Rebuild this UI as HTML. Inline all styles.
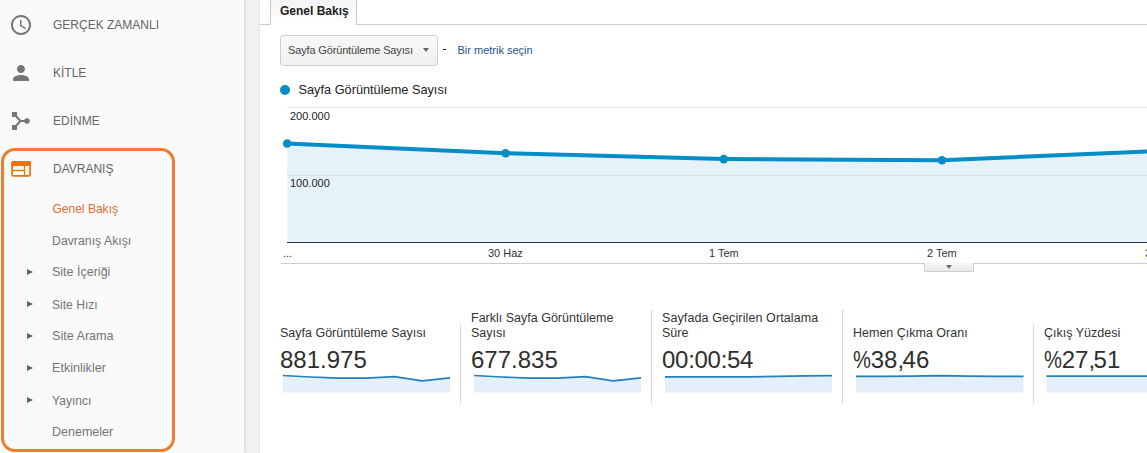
<!DOCTYPE html>
<html><head><meta charset="utf-8">
<style>
*{margin:0;padding:0;box-sizing:border-box}
html,body{width:1147px;height:453px;overflow:hidden;background:#fff;font-family:"Liberation Sans",sans-serif}
.a{position:absolute;white-space:nowrap;line-height:1}
#side{position:absolute;left:0;top:0;width:244px;height:453px;background:#fafafa}
#band{position:absolute;left:244px;top:0;width:16px;height:453px;background:linear-gradient(to right,#d9d9d9 0px,#e9e9e9 1px,#efefef 3px,#f1f1f1 5px,#f1f1f1 15px,#e6e6e6 15px)}
.top{font-size:12px;color:#666;left:53px}
.sub{font-size:12px;color:#757575;left:52px}
.tri{position:absolute;left:27px;width:0;height:0;border-top:3.5px solid transparent;border-bottom:3.5px solid transparent;border-left:6px solid #5f6368}
.pc{display:inline-block;transform:scaleX(.84);transform-origin:0 50%;margin-right:-3.6px}
.cm{letter-spacing:-1.6px}
#ring{position:absolute;left:1px;top:148px;width:174px;height:304px;border:3px solid #ed7d31;border-radius:14px}
</style></head><body>
<div id="side">
  <!-- clock -->
  <svg class="a" style="left:9px;top:12.5px" width="24" height="24" viewBox="0 0 24 24"><path fill="#757575" d="M11.99 2C6.47 2 2 6.48 2 12s4.47 10 9.99 10C17.52 22 22 17.52 22 12S17.52 2 11.99 2zM12 20c-4.42 0-8-3.58-8-8s3.58-8 8-8 8 3.58 8 8-3.58 8-8 8zm.5-13H11v6l5.25 3.15.75-1.23-4.5-2.67z"/></svg>
  <div class="a top" style="top:18.8px">GERÇEK ZAMANLI</div>
  <!-- person -->
  <svg class="a" style="left:9px;top:60.8px" width="24" height="24" viewBox="0 0 24 24"><path fill="#757575" d="M12 12c2.21 0 4-1.79 4-4s-1.79-4-4-4-4 1.79-4 4 1.79 4 4 4zm0 2c-2.67 0-8 1.34-8 4v2h16v-2c0-2.66-5.33-4-8-4z"/></svg>
  <div class="a top" style="top:66.8px">KİTLE</div>
  <!-- acquisition -->
  <svg class="a" style="left:0;top:100px" width="40" height="40" viewBox="0 100 40 40"><g fill="#757575"><rect x="12" y="112" width="5" height="5"/><rect x="12" y="125" width="5" height="5"/><circle cx="27" cy="121" r="2.8"/></g><path d="M15.5 115.5L20.5 121L15.5 126.5M20.5 121H25" stroke="#757575" stroke-width="2" fill="none"/></svg>
  <div class="a top" style="top:114.8px">EDİNME</div>
  <!-- behavior -->
  <svg class="a" style="left:0;top:150px" width="40" height="40" viewBox="0 150 40 40"><rect x="12.1" y="161.9" width="18" height="14" rx="1.5" fill="#fff7ea" stroke="#ec720f" stroke-width="1.7"/><path d="M11.25 166V163a2 2 0 0 1 2-2H29a2 2 0 0 1 2 2V166z" fill="#ec720f"/><rect x="12" y="169.8" width="12.5" height="1.3" fill="#ec720f"/><rect x="23.9" y="166" width="1.2" height="10" fill="#ec720f"/></svg>
  <div class="a top" style="top:162.8px">DAVRANIŞ</div>

  <div class="a sub" style="top:202.8px;color:#dd7133;left:52.4px;font-size:12.05px">Genel Bakış</div>
  <div class="a sub" style="top:234.55px;font-size:12.3px">Davranış Akışı</div>
  <div class="tri" style="top:269px"></div>
  <div class="a sub" style="top:266.38px;font-size:12.5px">Site İçeriği</div>
  <div class="tri" style="top:301px"></div>
  <div class="a sub" style="top:298.72px;font-size:12.1px">Site Hızı</div>
  <div class="tri" style="top:333px"></div>
  <div class="a sub" style="top:330.29px;font-size:12.6px">Site Arama</div>
  <div class="tri" style="top:365px"></div>
  <div class="a sub" style="top:362.29px;font-size:12.6px">Etkinlikler</div>
  <div class="tri" style="top:397px"></div>
  <div class="a sub" style="top:394.72px;font-size:12.1px">Yayıncı</div>
  <div class="a sub" style="top:426.38px;font-size:12.5px">Denemeler</div>
  <div id="ring"></div>
</div>
<div id="band"></div>

<!-- MAIN -->
<div id="tabline" style="position:absolute;left:260px;top:24px;width:887px;height:1px;background:#cbcbcb"></div>
<div id="tab" style="position:absolute;left:270px;top:0;width:87px;height:25px;border:1px solid #cbcbcb;border-top:0;border-bottom:0;background:linear-gradient(#f4f4f4,#fff)"></div>
<div class="a" style="left:280px;top:5px;font-size:12px;font-weight:bold;color:#222">Genel Bakış</div>

<div id="dd" style="position:absolute;left:280px;top:35px;width:158px;height:31px;border:1px solid #cfcfcf;border-radius:3px;background:linear-gradient(#f8f8f8,#f0f0f0)"></div>
<div class="a" style="left:288px;top:44.7px;font-size:11px;color:#444;letter-spacing:-0.15px">Sayfa Görüntüleme Sayısı</div>
<div style="position:absolute;left:423px;top:48px;width:0;height:0;border-left:3.5px solid transparent;border-right:3.5px solid transparent;border-top:4px solid #666"></div>
<div style="position:absolute;left:443px;top:49px;width:3px;height:1px;background:#222"></div>
<div class="a" style="left:457.5px;top:44.7px;font-size:11px;color:#24528f">Bir metrik seçin</div>

<div style="position:absolute;left:280px;top:85px;width:10px;height:10px;border-radius:50%;background:#058dc7"></div>
<div class="a" style="left:298.5px;top:84.4px;font-size:12.75px;color:#222">Sayfa Görüntüleme Sayısı</div>

<svg class="a" style="left:0;top:0" width="1147" height="280" viewBox="0 0 1147 280">
  <line x1="287" y1="107.5" x2="1147" y2="107.5" stroke="#e6e6e6" stroke-width="1"/>
  <polygon points="287.2,143.5 505.6,153.2 723.7,159.1 942,160.3 1160.3,150.9 1160.3,242 287.2,242" fill="#e6f2fa"/>
  <line x1="287" y1="175.5" x2="1147" y2="175.5" stroke="#d7e3ec" stroke-width="1"/>
  <line x1="287" y1="242.5" x2="1147" y2="242.5" stroke="#333" stroke-width="1"/>
  <polyline points="287.2,143.5 505.6,153.2 723.7,159.1 942,160.3 1160.3,150.9" fill="none" stroke="#058dc7" stroke-width="4" stroke-linejoin="round"/>
  <g fill="#058dc7"><circle cx="287.2" cy="143.5" r="4.3"/><circle cx="505.6" cy="153.2" r="4.3"/><circle cx="723.7" cy="159.1" r="4.3"/><circle cx="942" cy="160.3" r="4.3"/></g>
  <line x1="281" y1="263.5" x2="1147" y2="263.5" stroke="#cccccc" stroke-width="1"/>
</svg>
<div class="a" style="left:290px;top:110.7px;font-size:11px;color:#222">200.000</div>
<div class="a" style="left:290px;top:177.7px;font-size:11px;color:#222">100.000</div>
<div class="a" style="left:283px;top:247.7px;font-size:11px;color:#333">...</div>
<div class="a" style="left:488px;top:247.7px;font-size:11px;color:#333">30 Haz</div>
<div class="a" style="left:709px;top:247.7px;font-size:11px;color:#333">1 Tem</div>
<div class="a" style="left:927px;top:247.7px;font-size:11px;color:#333">2 Tem</div>
<div class="a" style="left:1145px;top:247.7px;font-size:11px;color:#333">3 Tem</div>
<div style="position:absolute;left:924px;top:263px;width:50px;height:9px;border:1px solid #cfcfcf;border-top:0;background:linear-gradient(#f6f6f6,#e9e9e9);border-radius:0 0 2px 2px"></div>
<div style="position:absolute;left:945.8px;top:265px;width:0;height:0;border-left:3.6px solid transparent;border-right:3.6px solid transparent;border-top:4.3px solid #6e6e6e"></div>

<!-- metrics -->
<div style="position:absolute;left:460px;top:325px;width:1px;height:78px;background:#d4d4d4"></div>
<div style="position:absolute;left:651px;top:310px;width:1px;height:93px;background:#d4d4d4"></div>
<div style="position:absolute;left:842px;top:310px;width:1px;height:93px;background:#d4d4d4"></div>
<div style="position:absolute;left:1033px;top:325px;width:1px;height:78px;background:#d4d4d4"></div>

<div class="a" style="left:280px;top:326.9px;font-size:12.5px;color:#333">Sayfa Görüntüleme Sayısı</div>
<div class="a" style="left:471px;top:312.2px;font-size:12.5px;color:#333">Farklı Sayfa Görüntüleme</div>
<div class="a" style="left:471px;top:326.9px;font-size:12.5px;color:#333">Sayısı</div>
<div class="a" style="left:662px;top:311.7px;font-size:12.5px;color:#333;letter-spacing:0.11px">Sayfada Geçirilen Ortalama</div>
<div class="a" style="left:662px;top:326.9px;font-size:12.5px;color:#333">Süre</div>
<div class="a" style="left:853px;top:326.9px;font-size:12.5px;color:#333">Hemen Çıkma Oranı</div>
<div class="a" style="left:1044px;top:326.9px;font-size:12.5px;color:#333">Çıkış Yüzdesi</div>

<div class="a" style="left:280px;top:347.7px;font-size:24px;color:#2e2e2e">881.975</div>
<div class="a" style="left:471px;top:347.7px;font-size:24px;color:#2e2e2e">677.835</div>
<div class="a" style="left:662px;top:347.7px;font-size:24px;color:#2e2e2e;letter-spacing:-0.28px">00:00:54</div>
<div class="a" style="left:853px;top:347.7px;font-size:24px;color:#2e2e2e"><span class="pc">%</span>38<span class="cm">,</span>46</div>
<div class="a" style="left:1044px;top:347.7px;font-size:24px;color:#2e2e2e"><span class="pc">%</span>27<span class="cm">,</span>51</div>

<svg class="a" style="left:0;top:360px" width="1147" height="40" viewBox="0 360 1147 40">
  <g fill="#e4eff9">
    <polygon points="283,375.5 310.8,377 338.7,378.2 366.5,378.2 394.3,376.6 422.2,380.9 450,377.9 450,392.5 283,392.5"/>
    <polygon points="474,375.5 501.8,377 529.7,378.2 557.5,378.2 585.3,376.6 613.2,380.9 641,377.9 641,392.5 474,392.5"/>
    <polygon points="665,376.9 693,376.9 721,376.9 749,376.8 777,376.3 805,375.8 832,375.7 832,392.5 665,392.5"/>
    <polygon points="856,376.3 884,376.3 912,376.1 940,375.7 968,376.1 996,376.3 1023.5,376.3 1023.5,392.5 856,392.5"/>
    <polygon points="1046.5,376.1 1147,376.1 1147,392.5 1046.5,392.5"/>
  </g>
  <g fill="none" stroke="#2380b8" stroke-width="1.7" stroke-linejoin="round">
    <polyline points="283,375.5 310.8,377 338.7,378.2 366.5,378.2 394.3,376.6 422.2,380.9 450,377.9"/>
    <polyline points="474,375.5 501.8,377 529.7,378.2 557.5,378.2 585.3,376.6 613.2,380.9 641,377.9"/>
    <polyline points="665,376.9 693,376.9 721,376.9 749,376.8 777,376.3 805,375.8 832,375.7"/>
    <polyline points="856,376.3 884,376.3 912,376.1 940,375.7 968,376.1 996,376.3 1023.5,376.3"/>
    <polyline points="1046.5,376.1 1147,376.1"/>
  </g>
</svg>
</body></html>
